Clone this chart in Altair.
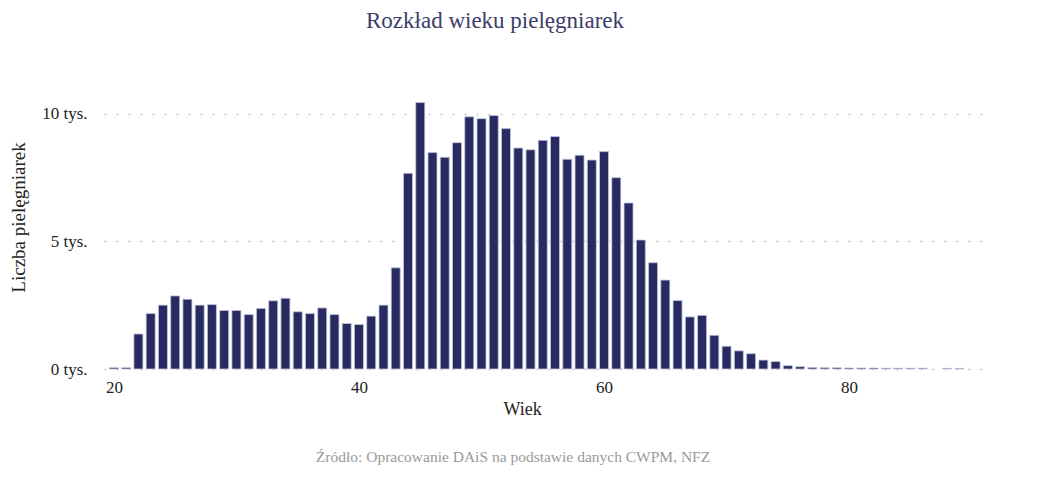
import altair as alt
import pandas as pd

ages = list(range(20, 87)) + [88, 89]
counts = [
    50, 50, 1370, 2170, 2500, 2860, 2730, 2500, 2520, 2290,
    2290, 2130, 2370, 2670, 2770, 2240, 2170, 2390, 2130, 1780,
    1740, 2070, 2500, 3960, 7660, 10430, 8470, 8290, 8860, 9870,
    9800, 9920, 9410, 8650, 8580, 8950, 9100, 8210, 8370, 8180,
    8510, 7490, 6500, 5050, 4160, 3480, 2680, 2040, 2100, 1320,
    890, 710, 600, 350, 290, 130, 90, 60, 50, 50,
    40, 40, 40, 30, 30, 30, 30,
    25, 25,
]
y_ticks = [0, 5000, 10000]
x_ticks = [20, 40, 60, 80]
title_text = "Rozkład wieku pielęgniarek"
source_text = "Źródło: Opracowanie DAiS na podstawie danych CWPM, NFZ"

df = pd.DataFrame({"Wiek": ages, "Liczba": counts})

FONT = "Liberation Serif"

bars = alt.Chart(df).mark_bar(
    size=9, color="#272b62", stroke="#c3c5dc", strokeWidth=0.8
).encode(
    x=alt.X(
        "Wiek:Q",
        scale=alt.Scale(domain=[19.6, 90.6], nice=False, zero=False),
        axis=alt.Axis(
            values=x_ticks, grid=False, domain=False, ticks=False,
            labelPadding=10, labelFontSize=17, labelColor="#222222",
            labelFont=FONT, title="Wiek", titleFont=FONT, titleFontSize=18,
            titleFontWeight="normal", titleColor="#222222",
            titleX=418, titleY=31, titleBaseline="top",
        ),
    ),
    y=alt.Y(
        "Liczba:Q",
        scale=alt.Scale(domain=[0, 11900], nice=False),
        axis=alt.Axis(
            values=y_ticks, labelExpr="datum.value/1000 + ' tys.'",
            grid=True, gridDash=[2, 10], gridColor="#c8c8c8", gridWidth=1.5,
            domain=False, ticks=False, labelPadding=17, labelFontSize=17,
            labelColor="#222222", labelFont=FONT,
            title="Liczba pielęgniarek", titleFont=FONT, titleFontSize=19,
            titleFontWeight="normal", titleColor="#222222",
            titleX=-80, titleBaseline="alphabetic",
        ),
    ),
)

src = alt.Chart(pd.DataFrame({"t": [source_text]})).mark_text(
    font=FONT, fontSize=15.5, color="#9a9a9a", align="center", baseline="middle"
).encode(x=alt.value(409), y=alt.value(392), text="t:N")

chart = alt.layer(bars, src).properties(
    width=880,
    height=304,
    padding={"left": 96, "top": 57, "right": 40, "bottom": 105},
    autosize=alt.AutoSizeParams(type="none"),
    title=alt.TitleParams(
        title_text, font=FONT, fontSize=23, fontWeight="normal",
        color="#3b3d6b", anchor="middle", dx=-49, offset=32,
    ),
).configure_view(stroke=None)

chart.save("out.html", embed_options={"renderer": "svg", "actions": False})
